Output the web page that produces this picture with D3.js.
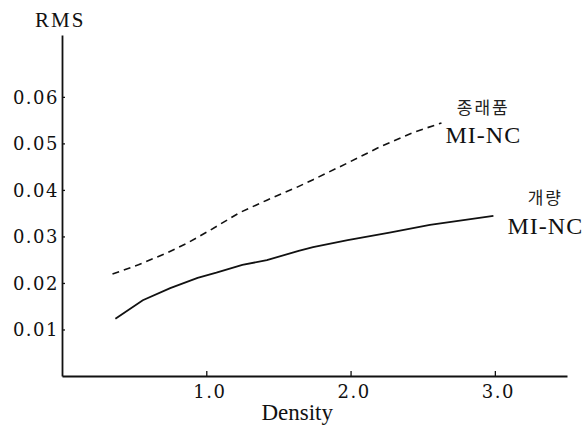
<!DOCTYPE html>
<html>
<head>
<meta charset="utf-8">
<script src="https://cdn.jsdelivr.net/npm/d3@7"></script>
<style>
  body { margin: 0; background: #fff; }
  svg { display: block; }
  .tickLabel { font-family: "DejaVu Serif", serif; font-size: 18px; letter-spacing: 1.5px; fill: #111; }
  .axisTitle { font-family: "Liberation Serif", serif; fill: #111; }
  .seriesName { font-family: "Liberation Serif", serif; font-size: 24px; letter-spacing: 1px; fill: #111; }
  .seriesKor { font-family: "Noto Sans CJK KR", sans-serif; font-size: 17px; letter-spacing: 2px; fill: #222; }
</style>
</head>
<body>
<svg id="graphic-svg" width="588" height="431"></svg>
<script>
var svg = d3.select("#graphic-svg");

// Data
var densityConv = [0.35, 0.53, 0.73, 0.87, 1.03, 1.23, 1.42, 1.63, 1.74, 1.98, 2.20, 2.43, 2.63];
var rmsConv     = [0.0219, 0.0239, 0.0265, 0.0286, 0.0314, 0.0351, 0.0378, 0.0406, 0.0422, 0.0458, 0.0492, 0.0523, 0.0544];
var densityImpr = [0.37, 0.56, 0.75, 0.94, 1.07, 1.25, 1.42, 1.64, 1.74, 1.98, 2.27, 2.55, 2.99];
var rmsImpr     = [0.0123, 0.0163, 0.0189, 0.0211, 0.0222, 0.0239, 0.0249, 0.0269, 0.0277, 0.0292, 0.0308, 0.0325, 0.0344];
var xTicks = [1.0, 2.0, 3.0];
var yTicks = [0.01, 0.02, 0.03, 0.04, 0.05, 0.06];
var labelConv = ["종래품", "MI-NC"];
var labelImpr = ["개량", "MI-NC"];

var margin = { left: 62, right: 21, top: 35, bottom: 55 };
var w = 588, h = 431;

// Scales
var xScale = d3.scaleLinear().domain([0, 3.5]).range([margin.left, w - margin.right]);
var yScale = d3.scaleLinear().domain([0, 0.0733]).range([h - margin.bottom, margin.top]);

// Axes
var xAxis = svg.append("g")
   .attr("transform", "translate(0," + yScale(0) + ")")
   .call(d3.axisBottom(xScale).tickValues(xTicks).tickFormat(d3.format(".1f")).tickSize(-5).tickSizeOuter(0));
xAxis.select(".domain").attr("stroke-width", 1.8);
xAxis.selectAll(".tick line").attr("stroke-width", 1.3);
xAxis.selectAll("text")
     .attr("class", "tickLabel")
     .attr("y", 22).attr("dy", 0).attr("dx", 3)
     .attr("font-family", null).attr("font-size", null);

var yAxis = svg.append("g")
   .attr("transform", "translate(" + xScale(0) + ",0)")
   .call(d3.axisLeft(yScale).tickValues(yTicks).tickFormat(d3.format(".2f")).tickSize(-3).tickSizeOuter(0));
yAxis.select(".domain").attr("stroke-width", 1.8);
yAxis.selectAll(".tick line").attr("stroke-width", 1.3);
yAxis.selectAll("text")
     .attr("class", "tickLabel")
     .attr("x", -3).attr("dy", "0.36em")
     .attr("font-family", null).attr("font-size", null);

svg.selectAll(".domain, .tick line").attr("stroke", "#111");

// Axis titles
svg.append("text")
   .attr("class", "axisTitle")
   .attr("x", 35).attr("y", 27)
   .style("font-size", "21px").style("letter-spacing", "2px")
   .text("RMS");
svg.append("text")
   .attr("class", "axisTitle")
   .attr("x", xScale(1.63)).attr("y", 420)
   .style("font-size", "23px").style("text-anchor", "middle")
   .text("Density");

// Lines
var line = d3.line()
   .x(function(d) { return xScale(d[0]); })
   .y(function(d) { return yScale(d[1]); });

svg.append("path")
   .datum(d3.zip(densityConv, rmsConv))
   .attr("d", line)
   .attr("fill", "none")
   .attr("stroke", "#111")
   .attr("stroke-width", 1.6)
   .attr("stroke-dasharray", "7,5");

svg.append("path")
   .datum(d3.zip(densityImpr, rmsImpr))
   .attr("d", line)
   .attr("fill", "none")
   .attr("stroke", "#111")
   .attr("stroke-width", 1.8);

// Series labels
var convX = xScale(2.92), imprX = xScale(3.35);
svg.append("text").attr("class", "seriesKor")
   .attr("x", convX).attr("y", 114).style("text-anchor", "middle").text(labelConv[0]);
svg.append("text").attr("class", "seriesName")
   .attr("x", convX).attr("y", yScale(0.0500)).style("text-anchor", "middle").text(labelConv[1]);
svg.append("text").attr("class", "seriesKor")
   .attr("x", imprX).attr("y", 204).style("text-anchor", "middle").text(labelImpr[0]);
svg.append("text").attr("class", "seriesName")
   .attr("x", imprX).attr("y", yScale(0.0305)).style("text-anchor", "middle").text(labelImpr[1]);
</script>
</body>
</html>
